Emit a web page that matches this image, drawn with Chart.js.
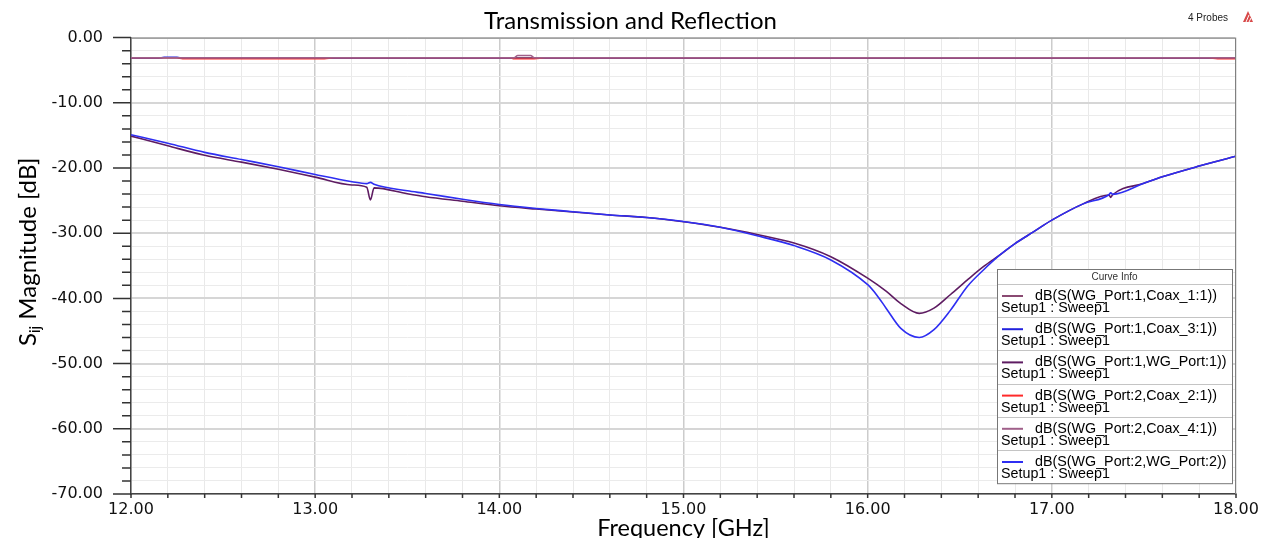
<!DOCTYPE html>
<html>
<head>
<meta charset="utf-8">
<script src="https://cdn.jsdelivr.net/npm/chart.js@4.4.0/dist/chart.umd.min.js"></script>
<style>
  html, body { margin: 0; padding: 0; background: #fff; }
  #wrap { width: 1261px; height: 538px; position: relative; }
</style>
</head>
<body>
<div id="wrap"><canvas id="myChart"></canvas></div>
<script>
// curve names, in legend order
const curveNames = [
  'dB(S(WG_Port:1,Coax_1:1))',
  'dB(S(WG_Port:1,Coax_3:1))',
  'dB(S(WG_Port:1,WG_Port:1))',
  'dB(S(WG_Port:2,Coax_2:1))',
  'dB(S(WG_Port:2,Coax_4:1))',
  'dB(S(WG_Port:2,WG_Port:2))'
];
const sweepName = 'Setup1 : Sweep1';

// transmission curves (all near -3 dB)
const freqT  = [12.0, 12.15, 12.18, 12.25, 12.28, 13.05, 13.1, 14.06, 14.08, 14.1, 14.17, 14.19, 14.25, 15.0, 16.0, 17.0, 17.85, 17.9, 18.0];
const coax1  = [-3.10, -3.10, -3.10, -3.10, -3.10, -3.10, -3.10, -3.10, -3.10, -3.10, -3.10, -3.10, -3.10, -3.10, -3.10, -3.10, -3.10, -3.10, -3.10];
const coax3  = [-3.15, -3.15, -3.02, -3.02, -3.15, -3.15, -3.15, -3.15, -3.15, -3.15, -3.15, -3.15, -3.15, -3.15, -3.15, -3.15, -3.15, -3.15, -3.15];
const coax2  = [-3.10, -3.10, -3.10, -3.10, -3.22, -3.22, -3.10, -3.10, -3.25, -3.25, -3.25, -3.25, -3.10, -3.10, -3.10, -3.10, -3.10, -3.22, -3.22];
const coax4  = [-3.08, -3.08, -3.08, -3.08, -3.08, -3.08, -3.08, -3.08, -3.08, -2.75, -2.75, -3.08, -3.08, -3.08, -3.08, -3.08, -3.08, -3.08, -3.08];

// reflection at WG_Port:1
const freq11 = [12.0, 12.2, 12.4, 12.6, 12.8, 13.0, 13.2, 13.28, 13.3, 13.32, 13.5, 13.6, 13.8, 14.0, 14.2, 14.4, 14.6, 14.8, 15.0, 15.2, 15.4, 15.6, 15.8, 16.0, 16.1, 16.18, 16.28, 16.36, 16.45, 16.54, 16.63, 16.72, 16.8, 16.9, 17.0, 17.17, 17.31, 17.32, 17.33, 17.5, 17.6, 17.8, 18.0];
const s11    = [-15.1, -16.6, -18.05, -19.1, -20.2, -21.4, -22.6, -22.95, -24.9, -23.05, -23.95, -24.4, -25.1, -25.8, -26.3, -26.75, -27.2, -27.6, -28.25, -29.1, -30.2, -31.5, -33.6, -36.9, -38.9, -40.8, -42.3, -41.5, -39.4, -37.2, -35.1, -33.3, -31.6, -29.8, -28.0, -25.5, -24.15, -24.5, -24.1, -22.35, -21.35, -19.7, -18.2];

// reflection at WG_Port:2
const freq22 = [12.0, 12.2, 12.4, 12.6, 12.8, 13.0, 13.2, 13.28, 13.3, 13.32, 13.5, 13.6, 13.8, 14.0, 14.2, 14.4, 14.6, 14.8, 15.0, 15.2, 15.4, 15.6, 15.8, 16.0, 16.05, 16.1, 16.18, 16.28, 16.36, 16.45, 16.54, 16.63, 16.72, 16.8, 16.9, 17.0, 17.17, 17.31, 17.32, 17.33, 17.5, 17.6, 17.8, 18.0];
const s22    = [-14.9, -16.2, -17.6, -18.7, -19.8, -21.0, -22.1, -22.4, -22.2, -22.5, -23.5, -23.9, -24.8, -25.6, -26.2, -26.7, -27.2, -27.6, -28.2, -29.1, -30.4, -31.9, -34.1, -37.9, -39.5, -41.5, -44.6, -46.0, -44.8, -41.8, -38.2, -35.6, -33.3, -31.6, -29.8, -28.0, -25.5, -24.1, -23.8, -24.05, -22.35, -21.35, -19.7, -18.2];

const xTicks = { min: 12, max: 18, step: 0.2, major: 1 };
const yTicks = { min: -70, max: 0, step: 2, major: 10 };

const colors = ['#8a4a72', '#2222dd', '#5e1c62', '#ff2a2a', '#a0608a', '#2e2ef2'];

function pts(xs, ys) { return xs.map((x, i) => ({ x: x, y: ys[i] })); }
function isMajor(v, m) { return Math.abs(v / m - Math.round(v / m)) < 1e-6; }

const extras = {
  id: 'extras',
  afterDraw(chart) {
    const ctx = chart.ctx, a = chart.chartArea;
    const xs = chart.scales.x, ys = chart.scales.y;
    ctx.save();
    // top and right frame
    ctx.strokeStyle = '#808080'; ctx.lineWidth = 1;
    ctx.beginPath();
    ctx.moveTo(a.left, a.top + 0.5); ctx.lineTo(a.right - 0.5, a.top + 0.5); ctx.lineTo(a.right - 0.5, a.bottom);
    ctx.stroke();
    // tick marks
    ctx.strokeStyle = '#333'; ctx.lineWidth = 1.5;
    ctx.beginPath();
    xs.ticks.forEach(t => {
      const px = xs.getPixelForValue(t.value);
      ctx.moveTo(px, a.bottom); ctx.lineTo(px, a.bottom + 4);
    });
    ys.ticks.forEach(t => {
      const py = ys.getPixelForValue(t.value);
      ctx.moveTo(a.left - (isMajor(t.value, yTicks.major) ? 18 : 9), py); ctx.lineTo(a.left, py);
    });
    ctx.stroke();

    // y axis title with subscript
    ctx.fillStyle = '#000';
    ctx.translate(28, 346); ctx.rotate(-Math.PI / 2);
    ctx.textBaseline = 'middle'; ctx.textAlign = 'left';
    ctx.font = '24px Lato';
    ctx.fillText('S', 0, 0);
    let w = ctx.measureText('S').width;
    ctx.font = '15px Lato';
    ctx.fillText('ij', w, 7);
    w += ctx.measureText('ij').width;
    ctx.font = '24px Lato';
    ctx.fillText(' Magnitude [dB]', w, 0);
    ctx.setTransform(1, 0, 0, 1, 0, 0);

    // probes label
    ctx.font = '10px "Liberation Sans"'; ctx.fillStyle = '#222';
    ctx.fillText('4 Probes', 1188, 18);
    ctx.fillStyle = '#d84a4a';
    ctx.beginPath(); ctx.moveTo(1243, 22); ctx.lineTo(1248, 11); ctx.lineTo(1253, 22); ctx.closePath(); ctx.fill();
    ctx.strokeStyle = '#fff'; ctx.lineWidth = 1;
    ctx.beginPath(); ctx.moveTo(1246, 22); ctx.lineTo(1249, 15); ctx.moveTo(1249, 22); ctx.lineTo(1251, 18); ctx.stroke();

    // curve info box
    const bx = 997, by = 269, bw = 235, head = 15, rowH = 33.2;
    const bh = head + rowH * chart.data.datasets.length;
    ctx.fillStyle = '#fff'; ctx.fillRect(bx, by, bw, bh);
    ctx.strokeStyle = '#777'; ctx.lineWidth = 1;
    ctx.strokeRect(bx + 0.5, by + 0.5, bw, bh);
    ctx.fillStyle = '#333'; ctx.font = '10px "Liberation Sans"'; ctx.textAlign = 'center';
    ctx.fillText('Curve Info', bx + bw / 2, by + 8);
    ctx.textAlign = 'left';
    chart.data.datasets.forEach((ds, i) => {
      const top = by + head + rowH * i;
      ctx.strokeStyle = '#c4c4c4'; ctx.lineWidth = 1;
      ctx.beginPath(); ctx.moveTo(bx + 1, Math.round(top) + 0.5); ctx.lineTo(bx + bw, Math.round(top) + 0.5); ctx.stroke();
      ctx.strokeStyle = ds.borderColor; ctx.lineWidth = 2;
      ctx.beginPath(); ctx.moveTo(bx + 5, top + 12); ctx.lineTo(bx + 26, top + 12); ctx.stroke();
      ctx.fillStyle = '#000'; ctx.font = '14.3px "Liberation Sans"';
      ctx.fillText(ds.label, bx + 38, top + 12);
      ctx.fillText(sweepName, bx + 4, top + 24);
    });
    ctx.restore();
  }
};

const transmissionT = [coax1, coax3, null, coax2, coax4, null];
const datasets = curveNames.map((name, i) => {
  let data;
  if (i === 2) data = pts(freq11, s11);
  else if (i === 5) data = pts(freq22, s22);
  else data = pts(freqT, transmissionT[i]);
  const order = [3, 5, 2, 4, 0, 1][i];
  return {
    label: name,
    data: data,
    borderColor: colors[i],
    backgroundColor: colors[i],
    borderWidth: 1.6,
    pointRadius: 0,
    cubicInterpolationMode: 'monotone',
    order: order
  };
});

const tickFont = { family: 'DejaVu Sans', size: 16 };

new Chart(document.getElementById('myChart'), {
  type: 'line',
  data: { datasets: datasets },
  options: {
    responsive: true,
    maintainAspectRatio: false,
    animation: false,
    layout: { padding: { left: 0, right: 0, top: 0, bottom: 0 } },
    plugins: {
      legend: { display: false },
      tooltip: { enabled: false },
      title: {
        display: true,
        text: 'Transmission and Reflection',
        color: '#000',
        font: { family: 'Lato', size: 24, weight: 'normal', lineHeight: 1.2 },
        padding: { top: 6, bottom: 2 }
      }
    },
    scales: {
      x: {
        type: 'linear',
        min: xTicks.min, max: xTicks.max,
        border: { display: true, color: '#444', width: 1.5 },
        grid: {
          drawTicks: false,
          color: c => isMajor(c.tick.value, xTicks.major) ? '#cccccc' : '#e9e9e9',
          lineWidth: c => isMajor(c.tick.value, xTicks.major) ? 1.5 : 1
        },
        ticks: {
          stepSize: xTicks.step, autoSkip: false, maxRotation: 0, padding: 6,
          color: '#111', font: tickFont,
          callback: v => isMajor(v, xTicks.major) ? v.toFixed(2) : ''
        },
        title: {
          display: true, text: 'Frequency [GHz]', color: '#000',
          font: { family: 'Lato', size: 23.5, lineHeight: 0.85 },
          padding: { top: 0, bottom: 0 }
        },
        afterFit: s => { s.height = 44; s.paddingRight = 25; }
      },
      y: {
        type: 'linear',
        min: yTicks.min, max: yTicks.max,
        border: { display: true, color: '#444', width: 1.5 },
        grid: {
          drawTicks: false,
          color: c => isMajor(c.tick.value, yTicks.major) ? '#d6d6d6' : '#ebebeb',
          lineWidth: c => isMajor(c.tick.value, yTicks.major) ? 2 : 1
        },
        ticks: {
          stepSize: yTicks.step, autoSkip: false, padding: 28,
          color: '#111', font: tickFont,
          callback: v => isMajor(v, yTicks.major) ? v.toFixed(2) : ''
        },
        afterFit: s => { s.width = 131; }
      }
    }
  },
  plugins: [extras]
});
</script>
</body>
</html>
